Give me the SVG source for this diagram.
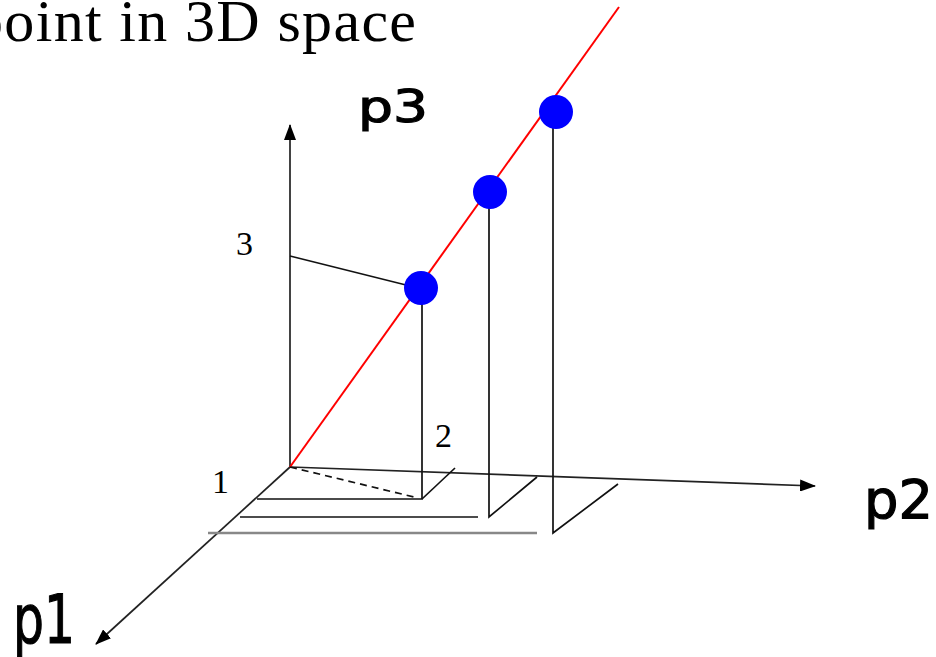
<svg xmlns="http://www.w3.org/2000/svg" width="936" height="657" viewBox="0 0 936 657">
<style>
.ln{stroke:#111;stroke-width:1.7;fill:none}
.ax{stroke:#222;stroke-width:1.7;fill:none}
.num{font-family:"Liberation Serif",serif;font-size:34px;fill:#000}
.lab{font-family:"DejaVu Sans",sans-serif;fill:#000;stroke:#000;stroke-width:1.2}
.dot{fill:#0000ff}
</style>
<defs>
<marker id="ah" viewBox="0 0 16 12" refX="15" refY="6" markerWidth="16" markerHeight="12" markerUnits="userSpaceOnUse" orient="auto">
<path d="M0,0 L16,6 L0,12 Z" fill="#000"/>
</marker>
</defs>
<rect width="936" height="657" fill="#fff"/>
<text id="title" x="-27" y="41" font-family="Liberation Serif,serif" font-size="60" textLength="443" lengthAdjust="spacing">point in 3D space</text>
<g id="connectors">
<line class="ax" x1="290" y1="467" x2="290" y2="125" marker-end="url(#ah)"/>
<line class="ax" x1="290" y1="467" x2="815" y2="486" marker-end="url(#ah)"/>
<line class="ax" x1="290" y1="467" x2="96" y2="644" marker-end="url(#ah)"/>
<line x1="290" y1="467" x2="619" y2="7" stroke="#ff0000" stroke-width="2"/>
<line class="ln" x1="290" y1="467" x2="414" y2="497" stroke-dasharray="7,5"/>
<line class="ln" x1="290" y1="256" x2="410" y2="286"/>
<polyline class="ln" points="422,288 422,499 257,499"/>
<line class="ln" x1="422" y1="499" x2="455" y2="468"/>
<polyline class="ln" points="489,192 489,517 537,477"/>
<line class="ln" x1="240" y1="517" x2="478" y2="517"/>
<polyline class="ln" points="553,112 553,533 618,484"/>
<line x1="208" y1="533" x2="537" y2="533" stroke="#888" stroke-width="2.4"/>
</g>
<g id="dot1"><circle class="dot" cx="421" cy="288" r="17"/></g>
<g id="dot2"><circle class="dot" cx="490" cy="192" r="17"/></g>
<g id="dot3"><circle class="dot" cx="556" cy="112" r="17"/></g>
<g id="labels">
<text class="num" x="212" y="493">1</text>
<text class="num" x="435" y="447">2</text>
<text class="num" x="236" y="255">3</text>
<text class="lab" x="358" y="122" font-size="44" textLength="70" lengthAdjust="spacingAndGlyphs">p3</text>
<text class="lab" x="864" y="518" font-size="54" textLength="69" lengthAdjust="spacingAndGlyphs">p2</text>
<text class="lab" x="13" y="643" font-size="68" textLength="62" lengthAdjust="spacingAndGlyphs">p1</text>
</g>
</svg>
